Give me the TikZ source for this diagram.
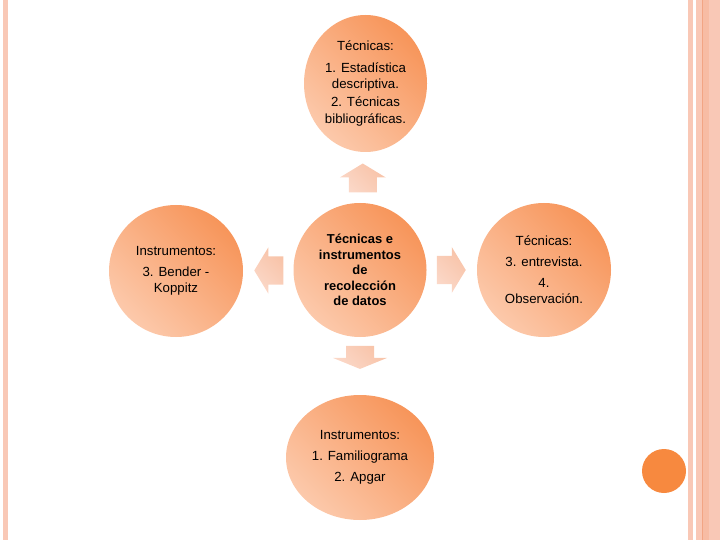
\documentclass[tikz,border=0pt]{standalone}
\usepackage{fontspec}
\setmainfont{Liberation Sans}
\usetikzlibrary{shapes.geometric,calc}
\definecolor{Light}{HTML}{FCC9AB}
\definecolor{Mid}{HTML}{F7A36E}
\definecolor{Dark}{HTML}{F7955A}
\definecolor{ArrowLight}{HTML}{FBD8C8}
\definecolor{ArrowDark}{HTML}{F8C3A8}
\definecolor{Stripe}{HTML}{F9C8B6}
\definecolor{StripeLine}{HTML}{F2A584}
\definecolor{Dot}{HTML}{F7893F}

\tikzset{
  bubble/.style={ellipse, inner sep=0pt, align=center, left color=Light, middle color=Mid,
    right color=Dark, shading angle=135, font=\fontsize{13.3}{16}\selectfont},
  pics/blockarrow/.style args={#1/#2/#3}{code={
    \shade[left color=ArrowLight, right color=ArrowDark, shading angle=135]
      (-#1,-14) -- (0,-14) -- (0,-#3) -- (#2,0) -- (0,#3) -- (0,14) -- (-#1,14) -- cycle;
  }}
}

\begin{document}
\begin{tikzpicture}[x=1bp, y=-1bp]
 \useasboundingbox (0,0) rectangle (720,540);

 %%%%%%%%%% Bandes du fond %%%%%%%%%%
 \fill[Stripe] (3,0) rectangle (8,540);
 \fill[Stripe] (688,0) rectangle (692.5,540);
 \fill[Stripe] (695.5,0) rectangle (720,540);
 \fill[StripeLine!35!Stripe] (703,0) rectangle (709,540);
 \fill[StripeLine] (702,0) rectangle (703.2,540);

 %%%%%%%%%% Bulles %%%%%%%%%%
 \node[bubble, minimum width=133bp, minimum height=134bp, font=\fontsize{13}{15.5}\selectfont\bfseries]
   (main) at (360,270) {Técnicas e\\ instrumentos\\ de\\ recolección\\ de datos};
 \node[bubble, minimum width=123bp, minimum height=137bp, font=\fontsize{13.3}{17}\selectfont]
   (tec1) at (365.5,83.5) {Técnicas:\\[5pt] 1. Estadística\\ descriptiva.\\[1pt] 2. Técnicas\\ bibliográficas.};
 \node[bubble, minimum width=134bp, minimum height=132bp]
   (instr3) at (176,271) {Instrumentos:\\[5pt] 3. Bender -\\ Koppitz};
 \node[bubble, minimum width=134bp, minimum height=134bp]
   (tec2) at (544,270) {Técnicas:\\[5pt] 3. entrevista.\\[5pt] 4.\\ Observación.};
 \node[bubble, minimum width=148bp, minimum height=125bp]
   (instr1) at (360,457.5) {Instrumentos:\\[5pt] 1. Familiograma\\[5pt] 2. Apgar};

 \node[circle, fill=Dot, minimum size=44bp, inner sep=0pt] (dot) at (664,471) {};

 %%%%%%%%%% Fleches %%%%%%%%%%
 \coordinate (up) at ($(main.north)!0.5!(tec1.south)$);
 \coordinate (left) at ($(main.west)!0.5!(instr3.east)$);
 \coordinate (right) at ($(main.east)!0.5!(tec2.west)$);
 \coordinate (down) at ($(main.south)!0.36!(instr1.north)$);

 \pic[rotate=90] at (up) {blockarrow=15/14/23};
 \pic[rotate=180] at (left) {blockarrow=15/14/23};
 \pic at (right) {blockarrow=15/14/23};
 \pic[rotate=-90] at (down) {blockarrow=12/11/27};

\end{tikzpicture}
\end{document}
